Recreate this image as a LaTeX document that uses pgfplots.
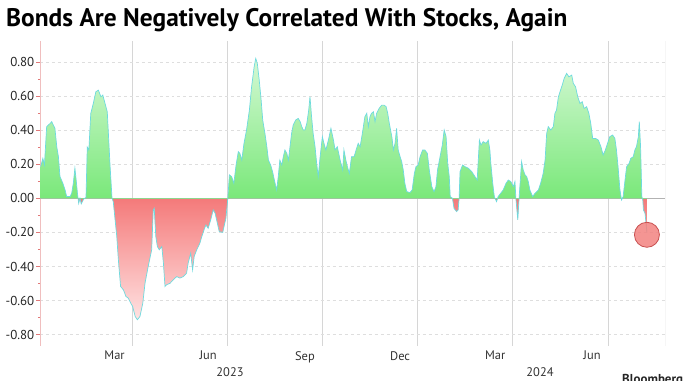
\documentclass[border=0pt]{standalone}
\usepackage{fontspec}
\setmainfont{PT Sans}
\usepackage{pgfplots}
\pgfplotsset{compat=1.18}
\usepackage{pgfplotstable}

\definecolor{gtop}{RGB}{212,248,212}
\definecolor{gzero}{RGB}{122,232,122}
\definecolor{rzero}{RGB}{244,122,122}
\definecolor{rbot}{RGB}{255,226,226}
\definecolor{linec}{RGB}{110,218,222}
\definecolor{gridc}{RGB}{222,222,222}
\definecolor{vgridc}{RGB}{214,214,214}
\definecolor{axpink}{RGB}{240,190,190}
\definecolor{tickred}{RGB}{225,120,120}
\definecolor{dotfill}{RGB}{242,130,128}
\definecolor{dotdraw}{RGB}{200,80,80}

% zero sits at 0.712/1.532 of the path's height
\pgfdeclareverticalshading{corrshade}{100bp}{color(0bp)=(rbot); color(25bp)=(rbot); color(48.23bp)=(rzero); color(48.25bp)=(gzero); color(75bp)=(gtop); color(100bp)=(gtop)}

\pgfplotstableread{
m v
0.12 0.185
0.19 0.234
0.24 0.195
0.31 0.42
0.42 0.439
0.47 0.449
0.52 0.429
0.57 0.41
0.63 0.30
0.68 0.244
0.73 0.127
0.82 0.088
0.89 0.049
0.94 0.01
1.05 0.01
1.10 0.03
1.15 0.088
1.20 0.176
1.24 0.107
1.28 0.03
1.32 -0.03
1.36 0.0
1.40 -0.033
1.47 -0.006
1.55 0.005
1.59 0.30
1.64 0.283
1.70 0.497
1.78 0.556
1.86 0.624
1.94 0.634
2.02 0.595
2.08 0.605
2.15 0.556
2.22 0.507
2.31 0.185
2.37 0.0
2.41 -0.02
2.52 -0.224
2.57 -0.36
2.64 -0.517
2.73 -0.537
2.81 -0.576
2.88 -0.585
2.96 -0.615
3.02 -0.634
3.10 -0.693
3.17 -0.712
3.25 -0.693
3.34 -0.615
3.41 -0.498
3.51 -0.40
3.62 -0.302
3.67 -0.068
3.70 -0.059
3.75 -0.224
3.80 -0.283
3.86 -0.302
3.94 -0.283
3.99 -0.38
4.04 -0.517
4.09 -0.507
4.20 -0.498
4.30 -0.478
4.41 -0.459
4.51 -0.468
4.62 -0.459
4.72 -0.439
4.77 -0.38
4.85 -0.322
4.91 -0.42
4.96 -0.341
5.04 -0.302
5.14 -0.263
5.20 -0.224
5.27 -0.185
5.33 -0.156
5.40 -0.176
5.48 -0.127
5.56 -0.068
5.62 -0.088
5.69 -0.146
5.75 -0.195
5.86 -0.20
5.90 -0.166
5.96 -0.117
6.02 0.0
6.07 0.137
6.14 0.127
6.21 0.088
6.28 0.195
6.35 0.273
6.40 0.263
6.46 0.224
6.53 0.322
6.61 0.40
6.70 0.517
6.77 0.654
6.85 0.771
6.90 0.82
6.95 0.79
7.01 0.693
7.07 0.576
7.12 0.459
7.19 0.38
7.25 0.302
7.30 0.224
7.37 0.195
7.43 0.156
7.51 0.088
7.56 0.049
7.61 0.127
7.66 0.224
7.72 0.195
7.77 0.244
7.82 0.283
7.88 0.263
7.93 0.224
7.98 0.302
8.03 0.38
8.08 0.429
8.16 0.459
8.24 0.468
8.30 0.449
8.35 0.42
8.40 0.40
8.45 0.40
8.51 0.439
8.57 0.517
8.61 0.595
8.66 0.478
8.71 0.38
8.77 0.302
8.82 0.205
8.87 0.127
8.93 0.244
9.00 0.361
9.05 0.322
9.11 0.283
9.19 0.341
9.27 0.41
9.35 0.341
9.40 0.283
9.47 0.302
9.56 0.224
9.64 0.166
9.68 0.283
9.74 0.224
9.79 0.185
9.85 0.146
9.92 0.244
10.00 0.244
10.08 0.293
10.13 0.322
10.19 0.302
10.26 0.38
10.34 0.478
10.40 0.498
10.45 0.42
10.50 0.478
10.55 0.498
10.61 0.507
10.66 0.449
10.71 0.498
10.79 0.527
10.87 0.546
10.94 0.546
11.01 0.537
11.06 0.498
11.11 0.439
11.19 0.361
11.24 0.283
11.29 0.322
11.34 0.41
11.39 0.283
11.45 0.244
11.50 0.215
11.55 0.166
11.60 0.088
11.66 0.039
11.76 0.033
11.83 0.049
11.90 0.146
11.95 0.185
12.02 0.195
12.08 0.244
12.16 0.283
12.23 0.283
12.31 0.263
12.37 0.166
12.45 0.068
12.52 0.039
12.58 0.068
12.63 0.166
12.71 0.244
12.78 0.312
12.84 0.40
12.90 0.361
12.95 0.205
13.00 0.127
13.03 0.01
13.10 0.0
13.15 -0.059
13.23 -0.078
13.28 -0.068
13.31 0.0
13.34 0.156
13.42 0.195
13.50 0.185
13.60 0.176
13.71 0.156
13.81 0.127
13.88 0.107
13.95 0.341
14.00 0.312
14.07 0.332
14.16 0.322
14.23 0.341
14.28 0.283
14.31 0.205
14.37 0.088
14.42 0.01
14.49 -0.02
14.54 0.01
14.62 0.029
14.70 0.049
14.79 0.088
14.86 0.107
14.94 0.098
15.02 0.068
15.07 0.098
15.10 0.0
15.16 -0.127
15.20 0.0
15.28 0.215
15.33 0.166
15.39 0.137
15.44 0.127
15.49 0.098
15.54 0.049
15.63 0.01
15.70 0.029
15.81 0.049
15.88 0.088
15.96 0.146
16.02 0.224
16.07 0.38
16.12 0.42
16.20 0.40
16.28 0.42
16.33 0.498
16.38 0.517
16.44 0.595
16.49 0.624
16.56 0.663
16.62 0.702
16.70 0.732
16.77 0.712
16.86 0.722
16.91 0.673
16.98 0.654
17.05 0.595
17.12 0.556
17.19 0.566
17.25 0.527
17.33 0.537
17.40 0.498
17.46 0.439
17.52 0.351
17.61 0.351
17.70 0.341
17.78 0.302
17.85 0.254
17.92 0.283
17.99 0.322
18.06 0.361
18.15 0.371
18.22 0.351
18.27 0.283
18.32 0.185
18.38 0.049
18.43 -0.01
18.48 0.01
18.54 0.107
18.59 0.185
18.67 0.205
18.72 0.234
18.80 0.244
18.85 0.283
18.90 0.302
18.96 0.361
18.99 0.449
19.03 0.302
19.07 0.01
19.10 -0.01
19.12 -0.068
19.17 -0.088
19.23 -0.20
}\corr

\begin{document}
\begin{tikzpicture}
\useasboundingbox (0,0) rectangle (694bp,381bp);
\begin{axis}[
  at={(40bp,35bp)}, anchor=south west,
  scale only axis, width=625bp, height=305bp,
  xmin=0.10, xmax=19.80, ymin=-0.866, ymax=0.922,
  axis line style={draw=none},
  tick align=outside,
  ytick pos=left,
  major tick length=3.5bp, minor tick length=2bp,
  xtick={3,6,9,12,15,18}, xticklabels={},
  xmajorgrids,
  x grid style={draw=vgridc, line width=0.6bp},
  x tick style={draw=none},
  extra x ticks={2.45,5.4,8.45,11.45,14.45,17.5},
  extra x tick labels={Mar,Jun,Sep,Dec,Mar,Jun},
  extra x tick style={grid=none},
  x tick label style={font=\fontsize{12.5}{13}\selectfont, text=black!80, inner sep=1.5bp},
  ytick={-0.8,-0.6,-0.4,-0.2,0,0.2,0.4,0.6,0.8},
  minor y tick num=1,
  ymajorgrids,
  y grid style={draw=gridc, dashed, line width=0.6bp},
  y tick style={draw=tickred, line width=0.6bp},
  y tick label style={font=\fontsize{13}{13}\selectfont, text=black!85, inner sep=2bp,
    /pgf/number format/.cd, fixed, fixed zerofill, precision=2, assume math mode=true},
]
\draw[draw=axpink, line width=0.6bp] (rel axis cs:0,1) -- ([yshift=-12bp]rel axis cs:0,0);
\draw[draw=gray!55, line width=0.6bp] (rel axis cs:1,1) -- ([yshift=-12bp]rel axis cs:1,0);
\pgfplotsinvokeforeach{3,6,9,12,15,18}{
  \draw[draw=vgridc, line width=0.6bp] (axis cs:#1,-0.866) -- ([yshift=-12bp]axis cs:#1,-0.866);
}
\draw[draw=gray!60, line width=0.6bp] (axis cs:0.10,0) -- (axis cs:19.80,0);
\addplot[draw=none, shade, shading=corrshade] table[x=m, y=v] {\corr} \closedcycle;
\addplot[color=linec, line width=0.7bp] table[x=m, y=v] {\corr};
\addplot[only marks, mark=*, mark size=12.5bp,
  mark options={fill=dotfill, fill opacity=0.85, draw=dotdraw, line width=0.8bp}]
  coordinates {(19.23,-0.214)};
\end{axis}
\node[anchor=base west, font=\bfseries\fontsize{25.5}{26}\selectfont, inner sep=0] at (6bp,354bp) {Bonds Are Negatively Correlated With Stocks, Again};
\node[font=\fontsize{12.5}{13}\selectfont, text=black!80] at (230bp,9bp) {2023};
\node[font=\fontsize{12.5}{13}\selectfont, text=black!80] at (540bp,9bp) {2024};
\node[anchor=base west, font=\bfseries\fontsize{13}{13}\selectfont, text=black!85, inner sep=0] at (622bp,-2bp) {Bloomberg};
\end{tikzpicture}
\end{document}
